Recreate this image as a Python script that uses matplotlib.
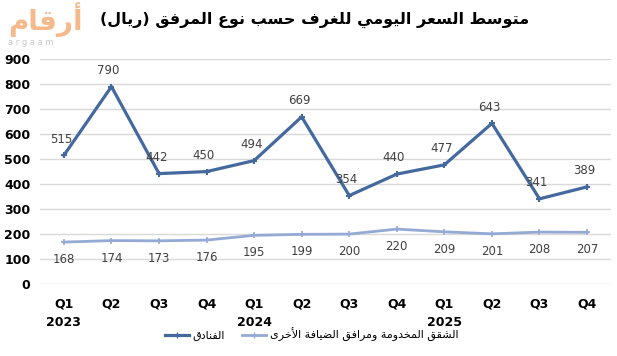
import matplotlib
matplotlib.use("Agg")
import matplotlib.pyplot as plt
from matplotlib.lines import Line2D

# data
quarters = ["Q1", "Q2", "Q3", "Q4"] * 3
years = ["2023", "2024", "2025"]
hotels = [515, 790, 442, 450, 494, 669, 354, 440, 477, 643, 341, 389]
apartments = [168, 174, 173, 176, 195, 199, 200, 220, 209, 201, 208, 207]

title_ar = "متوسط السعر اليومي للغرف حسب نوع المرفق (ريال)"
hotels_ar = "الفنادق"
apartments_ar = "الشقق المخدومة ومرافق الضيافة الأخرى"
logo_ar = "أرقام"

DARK = "#44699F"
LIGHT = "#94A9D3"

# isolated, final, initial, medial presentation forms
FORMS = {
    "ا": ("\uFE8D", "\uFE8E", None, None),
    "أ": ("\uFE83", "\uFE84", None, None),
    "ب": ("\uFE8F", "\uFE90", "\uFE91", "\uFE92"),
    "ة": ("\uFE93", "\uFE94", None, None),
    "ت": ("\uFE95", "\uFE96", "\uFE97", "\uFE98"),
    "ح": ("\uFEA1", "\uFEA2", "\uFEA3", "\uFEA4"),
    "خ": ("\uFEA5", "\uFEA6", "\uFEA7", "\uFEA8"),
    "د": ("\uFEA9", "\uFEAA", None, None),
    "ر": ("\uFEAD", "\uFEAE", None, None),
    "س": ("\uFEB1", "\uFEB2", "\uFEB3", "\uFEB4"),
    "ش": ("\uFEB5", "\uFEB6", "\uFEB7", "\uFEB8"),
    "ض": ("\uFEBD", "\uFEBE", "\uFEBF", "\uFEC0"),
    "ط": ("\uFEC1", "\uFEC2", "\uFEC3", "\uFEC4"),
    "ع": ("\uFEC9", "\uFECA", "\uFECB", "\uFECC"),
    "غ": ("\uFECD", "\uFECE", "\uFECF", "\uFED0"),
    "ف": ("\uFED1", "\uFED2", "\uFED3", "\uFED4"),
    "ق": ("\uFED5", "\uFED6", "\uFED7", "\uFED8"),
    "ل": ("\uFEDD", "\uFEDE", "\uFEDF", "\uFEE0"),
    "م": ("\uFEE1", "\uFEE2", "\uFEE3", "\uFEE4"),
    "ن": ("\uFEE5", "\uFEE6", "\uFEE7", "\uFEE8"),
    "و": ("\uFEED", "\uFEEE", None, None),
    "ى": ("\uFEEF", "\uFEF0", None, None),
    "ي": ("\uFEF1", "\uFEF2", "\uFEF3", "\uFEF4"),
}
LAM_ALEF = {"ا": ("\uFEFB", "\uFEFC"), "أ": ("\uFEF7", "\uFEF8")}


def joins_left(c):
    return c in FORMS and FORMS[c][2] is not None


def shape(text):
    """Join arabic letters and flip to visual order (no reshaper lib here)"""
    out = []
    i = 0
    n = len(text)
    while i < n:
        c = text[i]
        prev_con = i > 0 and joins_left(text[i - 1])
        if c == "ل" and i + 1 < n and text[i + 1] in LAM_ALEF:
            lig = LAM_ALEF[text[i + 1]]
            out.append(lig[1] if prev_con else lig[0])
            i += 2
            continue
        if c in FORMS:
            iso, fin, ini, med = FORMS[c]
            nxt = text[i + 1] if i + 1 < n else ""
            next_con = ini is not None and nxt in FORMS
            if prev_con and next_con:
                out.append(med)
            elif prev_con:
                out.append(fin)
            elif next_con:
                out.append(ini)
            else:
                out.append(iso)
        else:
            out.append(c)
        i += 1
    vis = "".join(reversed(out))
    return vis.translate(str.maketrans("()", ")("))


plt.rcParams["font.family"] = ["DejaVu Sans"]

fig = plt.figure(figsize=(6.17, 3.56), dpi=100)
ax = fig.add_axes([0.065, 0.202, 0.925, 0.632])

x = list(range(len(quarters)))
ax.plot(x, hotels, color=DARK, lw=2.3, marker="+", ms=4, mew=1.5, zorder=3)
ax.plot(x, apartments, color=LIGHT, lw=2.0, marker="+", ms=4, mew=1.2, zorder=3)

for xi, v in zip(x, hotels):
    ax.annotate(str(v), (xi, v), xytext=(-2, 7), textcoords="offset points",
                ha="center", va="bottom", fontsize=8.5, color="#404040")
for xi, v in zip(x, apartments):
    ax.annotate(str(v), (xi, v), xytext=(0, -8), textcoords="offset points",
                ha="center", va="top", fontsize=8.5, color="#404040")

ax.set_xlim(-0.5, len(quarters) - 0.5)
ax.set_ylim(0, 900)
ax.set_yticks(range(0, 1000, 100))
ax.set_xticks(x)
ax.set_xticklabels(quarters, fontsize=9, fontweight="bold")
for lab in ax.get_yticklabels():
    lab.set_fontsize(9)
    lab.set_fontweight("bold")
ax.tick_params(length=0, pad=10, axis="x")
ax.tick_params(length=0, pad=7, axis="y")
ax.grid(axis="y", color="#D9D9D9", lw=1)
ax.set_axisbelow(True)
for s in ax.spines.values():
    s.set_visible(False)

# year labels under each Q1
for k, yr in enumerate(years):
    ax.text(k * 4, -0.17, yr, transform=ax.get_xaxis_transform(),
            ha="center", va="center", fontsize=9, fontweight="bold")

handles = [Line2D([], [], color=DARK, lw=2.3, marker="+", ms=4),
           Line2D([], [], color=LIGHT, lw=2.0, marker="+", ms=4)]
fig.legend(handles, [shape(hotels_ar), shape(apartments_ar)],
           loc="center", bbox_to_anchor=(0.505, 0.06), ncol=2, frameon=False,
           fontsize=8, handlelength=2.2, handletextpad=0.3, columnspacing=1.5)

fig.text(0.51, 0.944, shape(title_ar), ha="center", va="center",
         fontsize=11.5, fontweight="bold")

# argaam logo
fig.text(0.074, 0.945, shape(logo_ar), ha="center", va="center",
         fontsize=20, fontweight="bold", color="#F6B98C")
fig.text(0.05, 0.88, "a r g a a m", ha="center", va="center",
         fontsize=6, color="#C9C9C9")

fig.savefig("out.png", dpi=100)
